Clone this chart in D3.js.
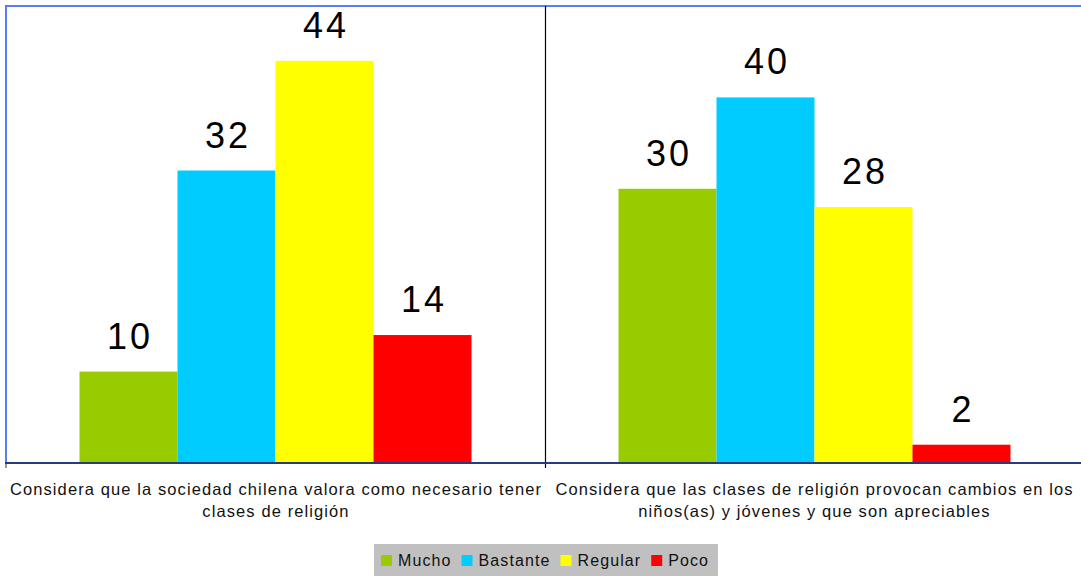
<html>
<head>
<style>
  body { margin: 0; background: #fff; }
  text { font-family: Arial, "Liberation Sans", sans-serif; }
</style>
</head>
<body>
<svg id="chart" width="1081" height="576"></svg>
<script src="https://cdn.jsdelivr.net/npm/d3@7"></script>
<script>
// data
const categories = [
  ["Considera que la sociedad chilena valora como necesario tener", "clases de religión"],
  ["Considera que las clases de religión provocan cambios en los", "niños(as) y jóvenes y que son apreciables"]
]
const seriesNames = ["Mucho", "Bastante", "Regular", "Poco"]
const mucho = [10, 30]
const bastante = [32, 40]
const regular = [44, 28]
const poco = [14, 2]
const colors = ["#99cc00", "#00ccff", "#ffff00", "#ff0000"]

const values = [mucho, bastante, regular, poco]

let svg = d3.select("#chart")

let plotLeft = 6, plotRight = 1084, plotTop = 6, plotBottom = 463

let x0 = d3.scaleBand()
  .domain(d3.range(categories.length))
  .range([plotLeft, plotRight])
  .padding(0)

let x1 = d3.scaleBand()
  .domain(seriesNames)
  .range([0, x0.bandwidth()])
  .paddingInner(0)
  .paddingOuter(0.75)

let y = d3.scaleLinear()
  .domain([0, 50])
  .range([plotBottom, plotTop])

let color = d3.scaleOrdinal().domain(seriesNames).range(colors)

// frame lines
svg.append("line")
  .attr("x1", plotLeft - 1).attr("x2", 1081)
  .attr("y1", plotTop).attr("y2", plotTop)
  .attr("stroke", "#5b7cf5").attr("stroke-width", 2)
svg.append("line")
  .attr("x1", plotLeft).attr("x2", plotLeft)
  .attr("y1", plotTop).attr("y2", plotBottom)
  .attr("stroke", "#5b7cf5").attr("stroke-width", 2)

// bars
categories.forEach((c, ci) => {
  let g = svg.append("g").attr("transform", `translate(${x0(ci)},0)`)
  seriesNames.forEach((s, si) => {
    let v = values[si][ci]
    g.append("rect")
      .attr("x", x1(s))
      .attr("y", y(v))
      .attr("width", x1.bandwidth())
      .attr("height", y(0) - y(v))
      .attr("fill", color(s))
    g.append("text")
      .attr("x", x1(s) + x1.bandwidth() / 2 + 1.5)
      .attr("y", y(v) - 23)
      .attr("text-anchor", "middle")
      .attr("font-size", 36)
      .attr("letter-spacing", 3)
      .attr("fill", "#000")
      .text(v)
  })
})

// divider + ticks
d3.range(categories.length).forEach(i => {
  let xx = x0(i)
  if (i == 0) {
    svg.append("line")
      .attr("x1", xx).attr("x2", xx)
      .attr("y1", plotBottom).attr("y2", plotBottom + 5)
      .attr("stroke", "#333").attr("stroke-width", 1)
  } else {
    svg.append("line")
      .attr("x1", xx + 0.5).attr("x2", xx + 0.5)
      .attr("y1", plotTop).attr("y2", plotBottom + 5)
      .attr("stroke", "#000").attr("stroke-width", 1.2)
  }
})

// baseline
svg.append("line")
  .attr("x1", plotLeft - 1).attr("x2", 1081)
  .attr("y1", plotBottom).attr("y2", plotBottom)
  .attr("stroke", "#283a80").attr("stroke-width", 2)

// category labels
categories.forEach((c, ci) => {
  let t = svg.append("text")
    .attr("text-anchor", "middle")
    .attr("font-size", 16.5)
    .attr("letter-spacing", 1.1)
    .attr("fill", "#111")
  c.forEach((line, li) => {
    t.append("tspan")
      .attr("x", Math.min(x0(ci) + x0.bandwidth() / 2, 814) + 0.5)
      .attr("y", 495 + li * 22)
      .text(line)
  })
})

// legend
let legend = svg.append("g")
legend.append("rect")
  .attr("x", 374).attr("y", 544)
  .attr("width", 344).attr("height", 34)
  .attr("fill", "#c0c0c0")
let lx = 381
seriesNames.forEach(s => {
  legend.append("rect")
    .attr("x", lx).attr("y", 555)
    .attr("width", 11).attr("height", 11)
    .attr("fill", color(s))
  let t = legend.append("text")
    .attr("x", lx + 17).attr("y", 566)
    .attr("font-size", 16)
    .attr("letter-spacing", 1.1)
    .attr("fill", "#111")
    .text(s)
  lx += 17 + t.node().getComputedTextLength() + 10
})
</script>
</body>
</html>
